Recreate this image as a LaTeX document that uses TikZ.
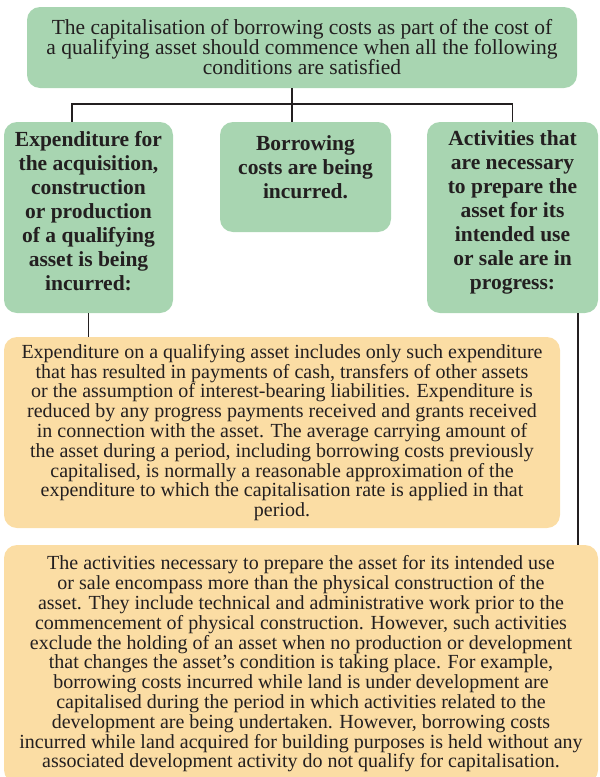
\documentclass[tikz,border=0pt]{standalone}
\usepackage{fontspec}
\setmainfont{Liberation Serif}
\definecolor{boxgreen}{HTML}{A8D5B1}
\definecolor{boxpeach}{HTML}{FBDDA4}
\definecolor{ink}{HTML}{231F20}
\begin{document}
\begin{tikzpicture}[x=1pt,y=-1pt,
  greenbox/.style={fill=boxgreen, rounded corners=13pt, align=center, inner sep=0pt, text=ink},
  peachbox/.style={fill=boxpeach, rounded corners=13pt, align=center, inner sep=0pt, text=ink,
    font={\fontsize{20}{19.8}\selectfont}},
  boldtext/.style={font={\fontsize{21.5}{24}\selectfont\bfseries}},
  conn/.style={draw=ink, line width=1.2pt}
]
\useasboundingbox (0,0) rectangle (600,777);
\clip (0,0) rectangle (600,777);

\node[greenbox, minimum width=550pt, minimum height=81pt,
  font={\fontsize{21.5}{20}\selectfont}] (top) at (302,47.5)
  {The capitalisation of borrowing costs as part of the cost of\\
   a qualifying asset should commence when all the following\\
   conditions are satisfied};

\node[greenbox, boldtext, minimum width=169pt, minimum height=191pt] (left) at (88.5,217.5)
  {Expenditure for\\ the acquisition,\\ construction\\ or production\\ of a qualifying\\ asset is being\\ incurred:\\[-10pt]\mbox{}};

\node[greenbox, boldtext, minimum width=171pt, minimum height=110pt] (mid) at (305.5,177)
  {Borrowing\\ costs are being\\ incurred.\\[-4pt]\mbox{}};

\node[greenbox, boldtext, minimum width=171pt, minimum height=191pt] (right) at (512.5,217.5)
  {Activities that\\ are necessary\\ to prepare the\\ asset for its\\ intended use\\ or sale are in\\ progress:\\[-10pt]\mbox{}};

\node[peachbox, minimum width=556pt, minimum height=191pt] (o1) at (282,432.5)
  {Expenditure on a qualifying asset includes only such expenditure\\
   that has resulted in payments of cash, transfers of other assets\\
   or the assumption of interest-bearing liabilities. Expenditure is\\
   reduced by any progress payments received and grants received\\
   in connection with the asset. The average carrying amount of\\
   the asset during a period, including borrowing costs previously\\
   capitalised, is normally a reasonable approximation of the\\
   expenditure to which the capitalisation rate is applied in that\\
   period.};

\node[peachbox, minimum width=594pt, minimum height=238pt] (o2) at (301,664)
  {The activities necessary to prepare the asset for its intended use\\
   or sale encompass more than the physical construction of the\\
   asset. They include technical and administrative work prior to the\\
   commencement of physical construction. However, such activities\\
   exclude the holding of an asset when no production or development\\
   that changes the asset’s condition is taking place. For example,\\
   borrowing costs incurred while land is under development are\\
   capitalised during the period in which activities related to the\\
   development are being undertaken. However, borrowing costs\\
   incurred while land acquired for building purposes is held without any\\
   associated development activity do not qualify for capitalisation.};

\coordinate (j) at (292,104);
\coordinate (cl) at (72,0);
\coordinate (cr) at (578,0);

\draw[conn] (top.south -| j) -- (mid.north -| j);
\draw[conn] (left.north -| cl) |- (j) -| (right.north);
\draw[conn] (left.south) -- (left.south |- o1.north);
\draw[conn] (right.south -| cr) -- (o2.north -| cr);
\end{tikzpicture}
\end{document}
